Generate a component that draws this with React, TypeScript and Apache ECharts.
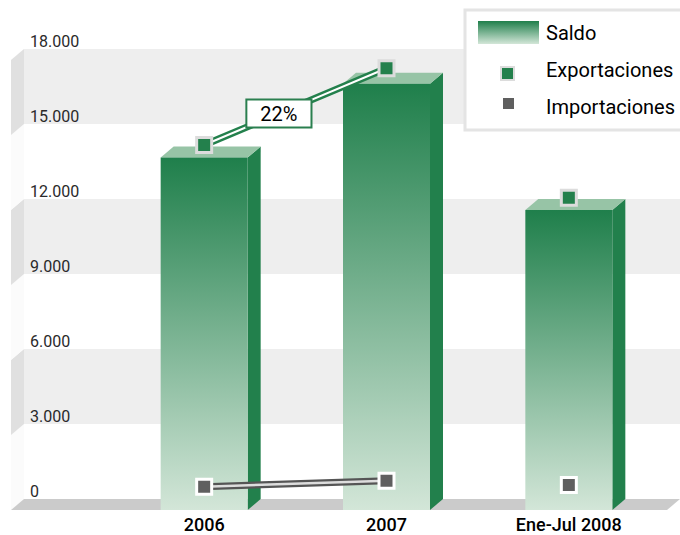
import React, { useEffect, useRef } from "react";
import * as echarts from "echarts";

// ---- data ----
const categories = ["2006", "2007", "Ene-Jul 2008"];
const saldo = [14100, 17050, 12000];
const exportaciones = [14600, 17670, 12490];
const importaciones = [930, 1170, 1000];
const yTicks = [0, 3000, 6000, 9000, 12000, 15000, 18000];
const growthLabel = "22%";

// ---- layout / style ----
const FONT = "Roboto, 'Liberation Sans', sans-serif";
const DX = 13;
const DY = 11;
const BACK = { left: 24, right: 0, top: 49, bottom: 36 };
const FRONT = { left: 113, right: 20, top: BACK.top + DY, bottom: BACK.bottom - DY };
const BAR_W = 87;
const LABEL_T = 0.41;

const fmt = (v: number) => String(v).replace(/\B(?=(\d{3})+(?!\d))/g, ".");

export default function App() {
  const ref = useRef<HTMLDivElement>(null);

  useEffect(() => {
    if (!ref.current) return;
    const chart = echarts.init(ref.current, null, { renderer: "svg" });

    const frontGradient = new echarts.graphic.LinearGradient(0, 0, 0, 1, [
      { offset: 0, color: "#1f7f4b" },
      { offset: 1, color: "#d3e6d8" },
    ]);
    const legendGradient = new echarts.graphic.LinearGradient(0, 0, 0, 1, [
      { offset: 0, color: "#1f7f4b" },
      { offset: 1, color: "#d3e6d8" },
    ]);

    const wallData = yTicks.slice(0, -1).map((lo, i) => [lo, yTicks[i + 1], i % 2]);

    const option: any = {
      animation: false,
      backgroundColor: "#ffffff",
      grid: [
        { left: BACK.left, right: BACK.right, top: BACK.top, bottom: BACK.bottom },
        { left: FRONT.left, right: FRONT.right, top: FRONT.top, bottom: FRONT.bottom },
      ],
      xAxis: [
        { type: "value", gridIndex: 0, min: 0, max: 1, show: false },
        {
          type: "category",
          gridIndex: 1,
          data: categories,
          axisLine: { show: false },
          axisTick: { show: false },
          axisLabel: {
            margin: 5,
            fontFamily: FONT,
            fontSize: 18,
            fontWeight: 500,
            color: "#000",
          },
        },
      ],
      yAxis: [
        {
          type: "value",
          gridIndex: 0,
          min: 0,
          max: 18000,
          interval: 3000,
          axisLine: { show: false },
          axisTick: { show: false },
          splitLine: { show: false },
          splitArea: { show: true, areaStyle: { color: ["rgba(255,255,255,0)", "#eeeeee"] } },
          axisLabel: {
            inside: true,
            margin: 6,
            verticalAlign: "bottom",
            fontFamily: FONT,
            fontSize: 16,
            color: "#2a2a2a",
            formatter: (v: number) => fmt(v),
          },
        },
        { type: "value", gridIndex: 1, min: 0, max: 18000, interval: 3000, show: false },
      ],
      legend: {
        orient: "vertical",
        left: 465,
        top: 10,
        padding: [11, 20, 12, 12],
        itemWidth: 63,
        itemHeight: 23,
        itemGap: 13,
        backgroundColor: "#fff",
        borderColor: "#e4e4e4",
        borderWidth: 3,
        selectedMode: false,
        textStyle: { fontFamily: FONT, fontSize: 20, color: "#000" },
        data: [
          { name: "Saldo", icon: "path://M63,23M0,0h61v23h-61z", itemStyle: { color: legendGradient, borderWidth: 0 } },
          {
            name: "Exportaciones",
            icon: "path://M0,0M63,23M23,9h13v13h-13z",
            itemStyle: { color: "#23804c", borderColor: "#dcdcdc", borderWidth: 2 },
          },
          {
            name: "Importaciones",
            icon: "path://M0,0M63,23M25,3h11v11h-11z",
            itemStyle: { color: "#5f5f5f", borderWidth: 0 },
          },
        ],
      },
      series: [
        {
          type: "custom",
          name: "pared",
          xAxisIndex: 0,
          yAxisIndex: 0,
          z: 1,
          silent: true,
          data: wallData,
          renderItem: (params: any, api: any) => {
            const cs = params.coordSys;
            const yLo = api.coord([0, api.value(0)])[1];
            const yHi = api.coord([0, api.value(1)])[1];
            const x = cs.x;
            return {
              type: "polygon",
              shape: { points: [[x, yHi], [x, yLo], [x - DX, yLo + DY], [x - DX, yHi + DY]] },
              style: { fill: api.value(2) ? "#e0e0e0" : "#fbfbfb" },
            };
          },
        },
        {
          type: "custom",
          name: "piso",
          xAxisIndex: 0,
          yAxisIndex: 0,
          z: 1,
          silent: true,
          data: [[0, 0]],
          renderItem: (params: any, api: any) => {
            const cs = params.coordSys;
            const y0 = api.coord([0, 0])[1];
            return {
              type: "polygon",
              shape: {
                points: [
                  [cs.x, y0],
                  [cs.x + cs.width, y0],
                  [cs.x + cs.width - DX, y0 + DY],
                  [cs.x - DX, y0 + DY],
                ],
              },
              style: { fill: "#cbcbcb" },
            };
          },
        },
        {
          type: "custom",
          name: "Saldo",
          xAxisIndex: 1,
          yAxisIndex: 1,
          z: 2,
          itemStyle: { color: legendGradient },
          data: saldo.map((v, i) => [i, v]),
          encode: { x: 0, y: 1 },
          renderItem: (params: any, api: any) => {
            const i = api.value(0);
            const v = api.value(1);
            const top = api.coord([i, v]);
            const bot = api.coord([i, 0]);
            const xL = top[0] - BAR_W / 2;
            const xR = top[0] + BAR_W / 2;
            const yT = top[1];
            const yB = bot[1];
            return {
              type: "group",
              children: [
                {
                  type: "polygon",
                  shape: { points: [[xR, yT], [xR + DX, yT - DY], [xR + DX, yB - DY], [xR, yB]] },
                  style: { fill: "#22804c" },
                },
                {
                  type: "polygon",
                  shape: { points: [[xL, yT], [xL + DX, yT - DY], [xR + DX, yT - DY], [xR, yT]] },
                  style: { fill: "#97c4a6" },
                },
                {
                  type: "rect",
                  shape: { x: xL, y: yT, width: BAR_W, height: yB - yT },
                  style: { fill: frontGradient },
                },
              ],
            };
          },
        },
        {
          type: "line",
          name: "exp-linea",
          xAxisIndex: 1,
          yAxisIndex: 1,
          z: 3,
          silent: true,
          symbol: "none",
          data: exportaciones.slice(0, 2),
          lineStyle: { color: "#23804c", width: 7 },
        },
        {
          type: "line",
          name: "exp-linea-centro",
          xAxisIndex: 1,
          yAxisIndex: 1,
          z: 4,
          silent: true,
          symbol: "none",
          data: exportaciones.slice(0, 2),
          lineStyle: { color: "#ffffff", width: 2 },
        },
        {
          type: "line",
          name: "imp-linea",
          xAxisIndex: 1,
          yAxisIndex: 1,
          z: 3,
          silent: true,
          symbol: "none",
          data: importaciones.slice(0, 2),
          lineStyle: { color: "#555555", width: 7 },
        },
        {
          type: "line",
          name: "imp-linea-centro",
          xAxisIndex: 1,
          yAxisIndex: 1,
          z: 4,
          silent: true,
          symbol: "none",
          data: importaciones.slice(0, 2),
          lineStyle: { color: "#dddddd", width: 2.5 },
        },
        {
          type: "scatter",
          name: "Exportaciones",
          xAxisIndex: 1,
          yAxisIndex: 1,
          z: 5,
          symbol: "rect",
          symbolSize: 15,
          data: exportaciones,
          itemStyle: { color: "#23804c", borderColor: "#dcdcdc", borderWidth: 3, opacity: 1 },
        },
        {
          type: "scatter",
          name: "Importaciones",
          xAxisIndex: 1,
          yAxisIndex: 1,
          z: 5,
          symbol: "rect",
          symbolSize: 15,
          data: importaciones,
          itemStyle: { color: "#5f5f5f", borderColor: "#ffffff", borderWidth: 3, opacity: 1 },
        },
      ],
    };

    chart.setOption(option);

    const p0 = chart.convertToPixel({ gridIndex: 1 }, [0, exportaciones[0]]) as number[];
    const p1 = chart.convertToPixel({ gridIndex: 1 }, [1, exportaciones[1]]) as number[];
    const lx = p0[0] + (p1[0] - p0[0]) * LABEL_T;
    const ly = p0[1] + (p1[1] - p0[1]) * LABEL_T;

    chart.setOption({
      graphic: [
        {
          type: "text",
          x: lx,
          y: ly,
          z: 100,
          style: {
            text: growthLabel,
            font: `20px ${FONT}`,
            fill: "#000",
            align: "center",
            verticalAlign: "middle",
            backgroundColor: "#fff",
            borderColor: "#2a7f4f",
            borderWidth: 2,
            padding: [3, 13, 3, 13],
          },
        },
      ],
    });

    return () => chart.dispose();
  }, []);

  return (
    <div
      ref={ref}
      style={{ position: "fixed", left: 0, top: 0, width: 680, height: 535, background: "#fff" }}
    />
  );
}
